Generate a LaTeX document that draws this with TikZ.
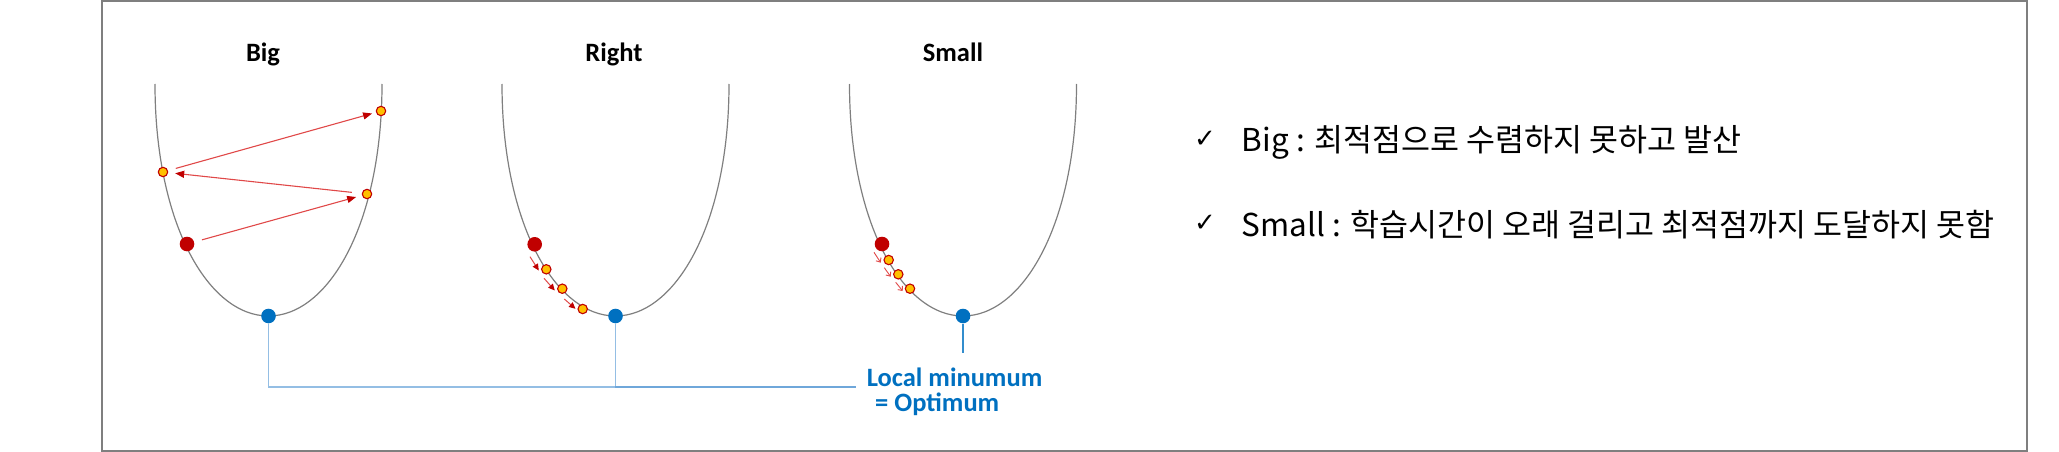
\documentclass[tikz,border=0pt]{standalone}
\usepackage{fontspec}
\setmainfont{Carlito}
\newfontfamily\krfont{Noto Sans CJK KR}
\newfontfamily\dvfont{DejaVu Sans}
\usetikzlibrary{arrows.meta}
\definecolor{dred}{HTML}{C00000}
\definecolor{orng}{HTML}{FFC000}
\definecolor{oblue}{HTML}{0070C0}
\definecolor{lblue}{HTML}{5B9BD5}
\definecolor{curvegray}{HTML}{7F7F7F}
\definecolor{arrred}{HTML}{E04848}
\newcommand\drawbowl[1]{\draw[curve] ({#1-113.5},84) .. controls ({#1-113.5},224) and ({#1-60},316) .. ({#1},316) .. controls ({#1+60},316) and ({#1+113.5},224) .. ({#1+113.5},84);}
\begin{document}
\begin{tikzpicture}[x=1pt,y=-1pt,
  curve/.style={draw=curvegray,line width=1.2pt},
  frame/.style={draw=curvegray,line width=1.4pt},
  bigdot/.style={circle,fill=dred,inner sep=0pt,minimum size=14.6pt},
  odot/.style={circle,fill=orng,draw=dred,line width=1.1pt,inner sep=0pt,minimum size=9.4pt},
  bluedot/.style={circle,fill=oblue,inner sep=0pt,minimum size=14.6pt},
  bigarr/.style={draw=arrred,line width=1.1pt,-{Triangle[length=9pt,width=7pt,color=dred]}},
  midarr/.style={draw=arrred,line width=1pt,-{Triangle[length=6.5pt,width=6pt,color=dred]}},
  smarr/.style={draw=arrred,line width=0.9pt,-{Straight Barb[length=3.5pt,width=6pt]}},
  bl/.style={draw=lblue,opacity=0.65,line width=1.5pt},
  bldark/.style={draw=oblue,opacity=0.8,line width=1.5pt},
  title/.style={font=\bfseries\fontsize{26.5}{30}\selectfont,inner sep=0pt},
  bluetxt/.style={font=\bfseries\fontsize{26.5}{30}\selectfont,text=oblue,inner sep=0pt},
  krtext/.style={font=\krfont\fontsize{31.5}{36}\selectfont,inner sep=0pt},
  chk/.style={font=\dvfont\fontsize{26}{30}\selectfont,inner sep=0pt},
]
\useasboundingbox (0,0) rectangle (2059,452);
\draw[frame] (102,1) rectangle (2027,451);

% titles
\node[title,anchor=base] (tBig) at (263,61.7) {Big};
\node[title,anchor=base] (tRight) at (614,61.7) {Right};
\node[title,anchor=base] (tSmall) at (953,61.7) {Small};

% bowls
\drawbowl{268.5}
\drawbowl{615.5}
\drawbowl{963}

% Big panel
\node[bigdot] (bR) at (187,244) {};
\node[odot] (bO1) at (367,194) {};
\node[odot] (bO2) at (163,172) {};
\node[odot] (bO3) at (381,111) {};
\node[bluedot] (bB) at (268.5,316) {};
\draw[bigarr,shorten <=8pt,shorten >=6pt] (bR) -- (bO1);
\draw[bigarr,shorten <=10pt,shorten >=7pt] (bO1) -- (bO2);
\draw[bigarr,shorten <=8pt,shorten >=4pt] (bO2) -- (bO3);

% Right panel
\node[bigdot] (rR) at (534.7,244.3) {};
\node[odot] (rO1) at (546.3,269.3) {};
\node[odot] (rO2) at (562.3,288.7) {};
\node[odot] (rO3) at (582.7,309) {};
\node[bluedot] (rB) at (615.5,316) {};
\coordinate (ra1s) at (530,256.7);  \coordinate (ra1e) at (538.8,270.5);
\coordinate (ra2s) at (544,278.3);  \coordinate (ra2e) at (554.8,290.5);
\coordinate (ra3s) at (564.3,299);  \coordinate (ra3e) at (575.5,308.8);
\draw[midarr] (ra1s) -- (ra1e);
\draw[midarr] (ra2s) -- (ra2e);
\draw[midarr] (ra3s) -- (ra3e);

% Small panel
\node[bigdot] (sR) at (882,244) {};
\node[odot] (sO1) at (888.7,260) {};
\node[odot] (sO2) at (898.3,274.3) {};
\node[odot] (sO3) at (910,288.7) {};
\node[bluedot] (sB) at (963,316) {};
\coordinate (sa1s) at (874,252.3);  \coordinate (sa1e) at (880.7,262.7);
\coordinate (sa2s) at (884.3,267.7);  \coordinate (sa2e) at (890.7,276.7);
\coordinate (sa3s) at (895.7,282.3);  \coordinate (sa3e) at (902.7,291);
\draw[smarr] (sa1s) -- (sa1e);
\draw[smarr] (sa2s) -- (sa2e);
\draw[smarr] (sa3s) -- (sa3e);

% connectors to label
\coordinate (lmEnd) at (856,387);
\coordinate (smTip) at (963,353);
\draw[bl] (bB) |- (lmEnd);
\draw[bl] (rB) |- (lmEnd);
\draw[bldark] (sB) -- (smTip);
\node[bluetxt,anchor=base west] (lm1) at (866.7,386.7) {Local minumum};
\node[bluetxt,anchor=base west] (lm2) at (875,411.7) {= Optimum};

% right text
\node[chk] (c1) at (1205,139.5) {✓};
\node[chk] (c2) at (1205,223) {✓};
\node[krtext,anchor=base west] (k1) at (1241.7,151.7) {Big : 최적점으로 수렴하지 못하고 발산};
\node[krtext,anchor=base west] (k2) at (1241.7,236.7) {Small : 학습시간이 오래 걸리고 최적점까지 도달하지 못함};
\end{tikzpicture}
\end{document}
